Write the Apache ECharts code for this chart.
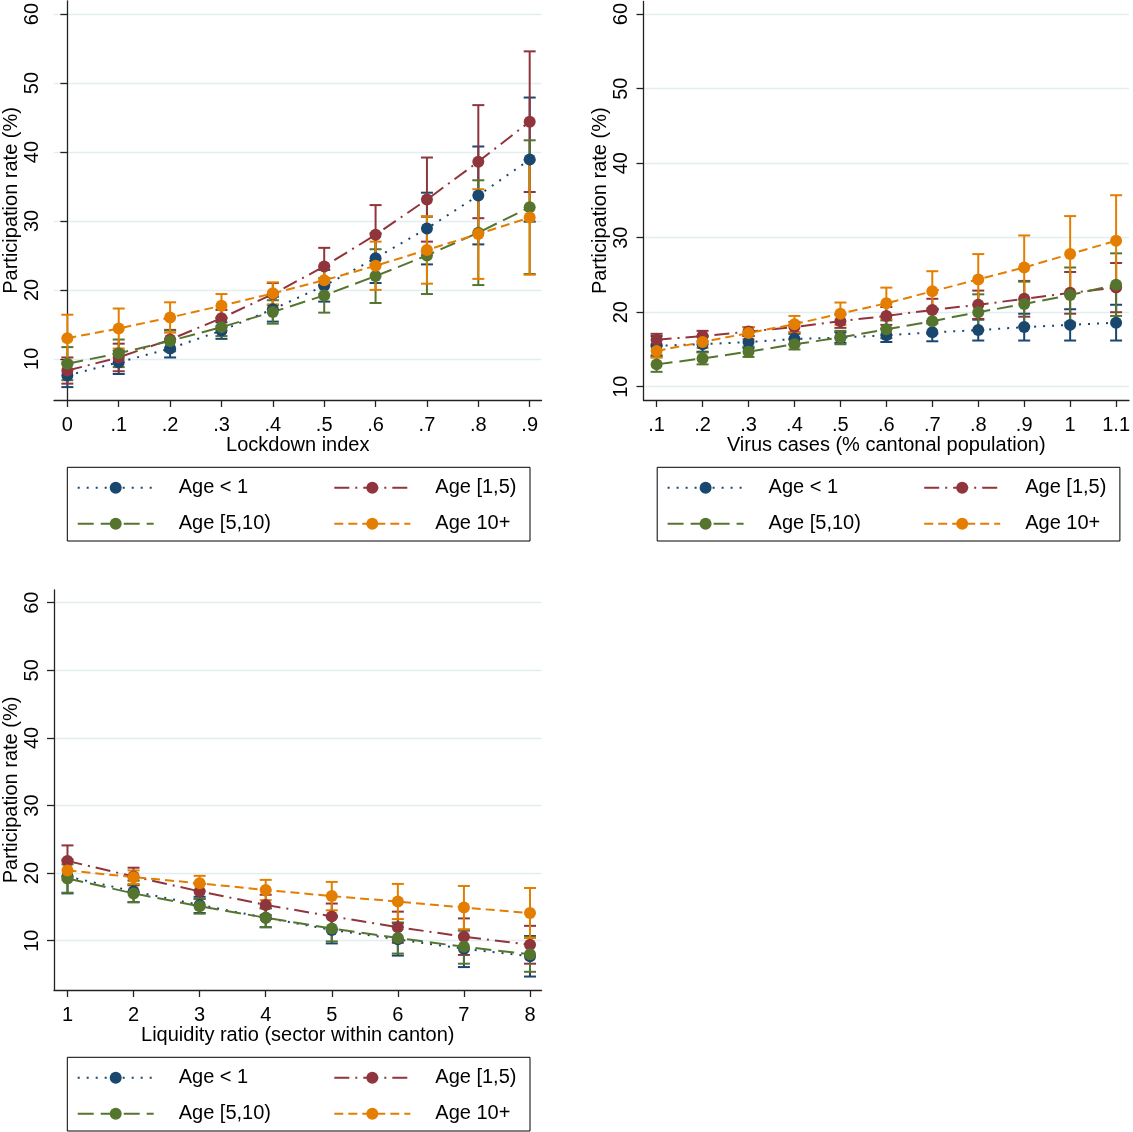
<!DOCTYPE html>
<html>
<head>
<meta charset="utf-8">
<title>Participation rate by age group</title>
<script src="https://cdn.jsdelivr.net/npm/echarts@6.0.0/dist/echarts.min.js"></script>
<style>
  html, body { margin: 0; padding: 0; background: #fff; }
  #chart { width: 1133px; height: 1132px; }
</style>
</head>
<body>
<div id="chart"></div>
<script>
// groups (same in every panel)
const groups = ['Age < 1', 'Age [1,5)', 'Age [5,10)', 'Age 10+']
const yTicks = [10, 20, 30, 40, 50, 60]

// panel 1: lockdown index
const lockdownX = [0, 0.1, 0.2, 0.3, 0.4, 0.5, 0.6, 0.7, 0.8, 0.9]
const lockdownLabels = ['0', '.1', '.2', '.3', '.4', '.5', '.6', '.7', '.8', '.9']
const lockdownAge0 = [7.6, 9.5, 11.5, 14.1, 17.2, 20.6, 24.6, 28.9, 33.7, 38.9]
const lockdownAge1 = [8.3, 10.2, 12.8, 15.9, 19.4, 23.4, 28.0, 33.1, 38.6, 44.4]
const lockdownAge5 = [9.3, 10.8, 12.6, 14.6, 16.8, 19.2, 22.0, 25.0, 28.3, 32.0]
const lockdownAge10 = [13.0, 14.4, 16.0, 17.7, 19.5, 21.4, 23.5, 25.8, 28.1, 30.5]
// half-width of the 95% CI
const lockdownErr0 = [1.7, 1.7, 1.3, 1.2, 1.8, 2.3, 3.6, 5.2, 7.1, 9.0]
const lockdownErr1 = [1.9, 2.0, 1.4, 1.2, 1.6, 2.7, 4.3, 6.1, 8.2, 10.2]
const lockdownErr5 = [2.4, 2.0, 1.5, 1.3, 1.7, 2.5, 3.9, 5.6, 7.6, 9.7]
const lockdownErr10 = [3.4, 2.9, 2.2, 1.7, 1.6, 2.0, 3.5, 4.9, 6.5, 8.3]

// panel 2: virus cases
const virusX = [0.1, 0.2, 0.3, 0.4, 0.5, 0.6, 0.7, 0.8, 0.9, 1, 1.1]
const virusLabels = ['.1', '.2', '.3', '.4', '.5', '.6', '.7', '.8', '.9', '1', '1.1']
const virusAge0 = [15.5, 15.7, 16.0, 16.4, 16.6, 16.9, 17.3, 17.6, 18.0, 18.3, 18.6]
const virusAge1 = [16.3, 16.8, 17.4, 18.0, 18.8, 19.5, 20.3, 21.0, 21.8, 22.6, 23.3]
const virusAge5 = [13.0, 13.8, 14.7, 15.7, 16.6, 17.7, 18.8, 20.0, 21.1, 22.3, 23.7]
const virusAge10 = [14.8, 16.0, 17.2, 18.4, 19.8, 21.2, 22.8, 24.4, 26.0, 27.8, 29.6]
const virusErr0 = [1.3, 1.0, 0.8, 0.7, 0.7, 0.9, 1.2, 1.4, 1.8, 2.1, 2.4]
const virusErr1 = [0.8, 0.7, 0.6, 0.7, 0.9, 1.2, 1.5, 1.9, 2.4, 2.8, 3.3]
const virusErr5 = [1.0, 0.8, 0.7, 0.7, 0.9, 1.2, 1.7, 2.4, 3.0, 3.7, 4.2]
const virusErr10 = [0.9, 0.8, 0.8, 1.1, 1.5, 2.1, 2.7, 3.4, 4.3, 5.1, 6.1]

// panel 3: liquidity ratio
const liquidityX = [1, 2, 3, 4, 5, 6, 7, 8]
const liquidityLabels = ['1', '2', '3', '4', '5', '6', '7', '8']
const liquidityAge0 = [19.5, 17.3, 15.3, 13.4, 11.6, 10.2, 8.8, 7.7]
const liquidityAge1 = [21.8, 19.5, 17.3, 15.3, 13.6, 12.0, 10.6, 9.4]
const liquidityAge5 = [19.2, 17.0, 15.1, 13.4, 11.8, 10.4, 9.1, 8.0]
const liquidityAge10 = [20.4, 19.4, 18.5, 17.5, 16.6, 15.8, 14.9, 14.1]
const liquidityErr0 = [2.5, 1.6, 1.2, 1.4, 2.0, 2.4, 2.7, 3.0]
const liquidityErr1 = [2.3, 1.3, 1.1, 1.5, 1.9, 2.3, 2.7, 2.8]
const liquidityErr5 = [2.1, 1.3, 1.1, 1.4, 1.9, 2.3, 2.5, 2.6]
const liquidityErr10 = [1.4, 1.0, 1.1, 1.5, 2.1, 2.6, 3.2, 3.7]

const colors = ['#1a476f', '#90353b', '#55752f', '#e37e00']
const dashes = [[2, 7], [15, 6, 2, 6], [16, 7], [9, 5]]
const font = '"Liberation Sans", Arial, Helvetica, sans-serif'

const panels = [
  {
    title: 'Lockdown index', xs: lockdownX, labels: lockdownLabels,
    means: [lockdownAge0, lockdownAge1, lockdownAge5, lockdownAge10],
    errs: [lockdownErr0, lockdownErr1, lockdownErr5, lockdownErr10],
    grid: { left: 53.5, top: 0, width: 488, height: 400 },
    xMin: -0.026, xMax: 0.923, yMin: 4.03, yMax: 61.93,
    box: [67.3, 467.3],
  },
  {
    title: 'Virus cases (% cantonal population)', xs: virusX, labels: virusLabels,
    means: [virusAge0, virusAge1, virusAge5, virusAge10],
    errs: [virusErr0, virusErr1, virusErr5, virusErr10],
    grid: { left: 643.5, top: 0, width: 488.5, height: 400 },
    xMin: 0.0715, xMax: 1.128, yMin: 8.22, yMax: 61.7,
    box: [657.2, 467.3],
  },
  {
    title: 'Liquidity ratio (sector within canton)', xs: liquidityX, labels: liquidityLabels,
    means: [liquidityAge0, liquidityAge1, liquidityAge5, liquidityAge10],
    errs: [liquidityErr0, liquidityErr1, liquidityErr5, liquidityErr10],
    grid: { left: 53.5, top: 590, width: 488, height: 400 },
    xMin: 0.796, xMax: 8.174, yMin: 2.71, yMax: 61.88,
    box: [67.3, 1057.3],
  },
]

function ciRenderer(color) {
  return function (params, api) {
    const x = api.value(0)
    const lo = api.coord([x, api.value(1)])
    const hi = api.coord([x, api.value(2)])
    const w = 6
    const style = { stroke: color, lineWidth: 2 }
    return {
      type: 'group',
      children: [
        { type: 'line', shape: { x1: lo[0], y1: lo[1], x2: hi[0], y2: hi[1] }, style },
        { type: 'line', shape: { x1: lo[0] - w, y1: lo[1], x2: lo[0] + w, y2: lo[1] }, style },
        { type: 'line', shape: { x1: hi[0] - w, y1: hi[1], x2: hi[0] + w, y2: hi[1] }, style },
      ],
    }
  }
}

const grids = []
const xAxes = []
const yAxes = []
const series = []
const legends = []
const graphics = []

panels.forEach((p, pi) => {
  grids.push(p.grid)

  xAxes.push({
    gridIndex: pi,
    type: 'value',
    min: p.xMin,
    max: p.xMax,
    name: p.title,
    nameLocation: 'middle',
    nameGap: 34,
    nameTextStyle: { fontSize: 20, fontFamily: font, color: '#000' },
    axisLine: { show: true, lineStyle: { color: '#222', width: 1.3 } },
    axisTick: { show: true, length: 7, customValues: p.xs, lineStyle: { color: '#222', width: 1.3 } },
    axisLabel: {
      customValues: p.xs,
      margin: 15,
      fontSize: 20,
      fontFamily: font,
      color: '#000',
      formatter: (v) => {
        const i = p.xs.findIndex((x) => Math.abs(x - v) < 1e-6)
        return i >= 0 ? p.labels[i] : ''
      },
    },
    splitLine: { show: false },
  })

  yAxes.push({
    gridIndex: pi,
    type: 'value',
    min: p.yMin,
    max: p.yMax,
    name: 'Participation rate (%)',
    nameLocation: 'middle',
    nameGap: 33,
    nameTextStyle: { fontSize: 20, fontFamily: font, color: '#000' },
    axisLine: { show: true, lineStyle: { color: '#222', width: 1.3 } },
    axisTick: { show: true, length: 7, customValues: yTicks, lineStyle: { color: '#222', width: 1.3 } },
    axisLabel: { customValues: yTicks, rotate: 90, margin: 12, fontSize: 20, fontFamily: font, color: '#000' },
    splitLine: { show: true, lineStyle: { color: '#e4eef1', width: 1.3 } },
  })

  // confidence intervals first, so markers sit on top
  groups.forEach((g, gi) => {
    series.push({
      type: 'custom',
      name: g + ' CI',
      xAxisIndex: pi,
      yAxisIndex: pi,
      silent: true,
      z: 2,
      renderItem: ciRenderer(colors[gi]),
      encode: { x: 0, y: [1, 2] },
      data: p.xs.map((x, i) => [x, p.means[gi][i] - p.errs[gi][i], p.means[gi][i] + p.errs[gi][i]]),
    })
  })

  groups.forEach((g, gi) => {
    series.push({
      type: 'line',
      name: g,
      xAxisIndex: pi,
      yAxisIndex: pi,
      z: 3,
      symbol: 'circle',
      symbolSize: 12,
      showSymbol: true,
      lineStyle: { color: colors[gi], width: 2, type: dashes[gi] },
      itemStyle: { color: colors[gi] },
      emphasis: { disabled: true },
      data: p.xs.map((x, i) => [x, p.means[gi][i]]),
    })
  })

  // legend: one box, four entries in a 2x2 layout
  const [bx, by] = p.box
  graphics.push({
    type: 'rect',
    shape: { x: bx, y: by, width: 462.7, height: 73.7 },
    style: { fill: 'none', stroke: '#000', lineWidth: 1 },
  })
  const cols = [9.4, 266]
  const rows = [18, 54]
  groups.forEach((g, gi) => {
    legends.push({
      left: bx + cols[gi % 2],
      top: by + rows[Math.floor(gi / 2)] - 7.5,
      padding: 0,
      itemWidth: 76,
      itemHeight: 15,
      selectedMode: false,
      data: [g],
      textStyle: { fontSize: 20, fontFamily: font, color: '#000', padding: [0, 0, 0, 20] },
    })
  })
})

const chart = echarts.init(document.getElementById('chart'))
chart.setOption({
  animation: false,
  backgroundColor: '#fff',
  grid: grids,
  xAxis: xAxes,
  yAxis: yAxes,
  legend: legends,
  graphic: graphics,
  series: series,
})
</script>
</body>
</html>
